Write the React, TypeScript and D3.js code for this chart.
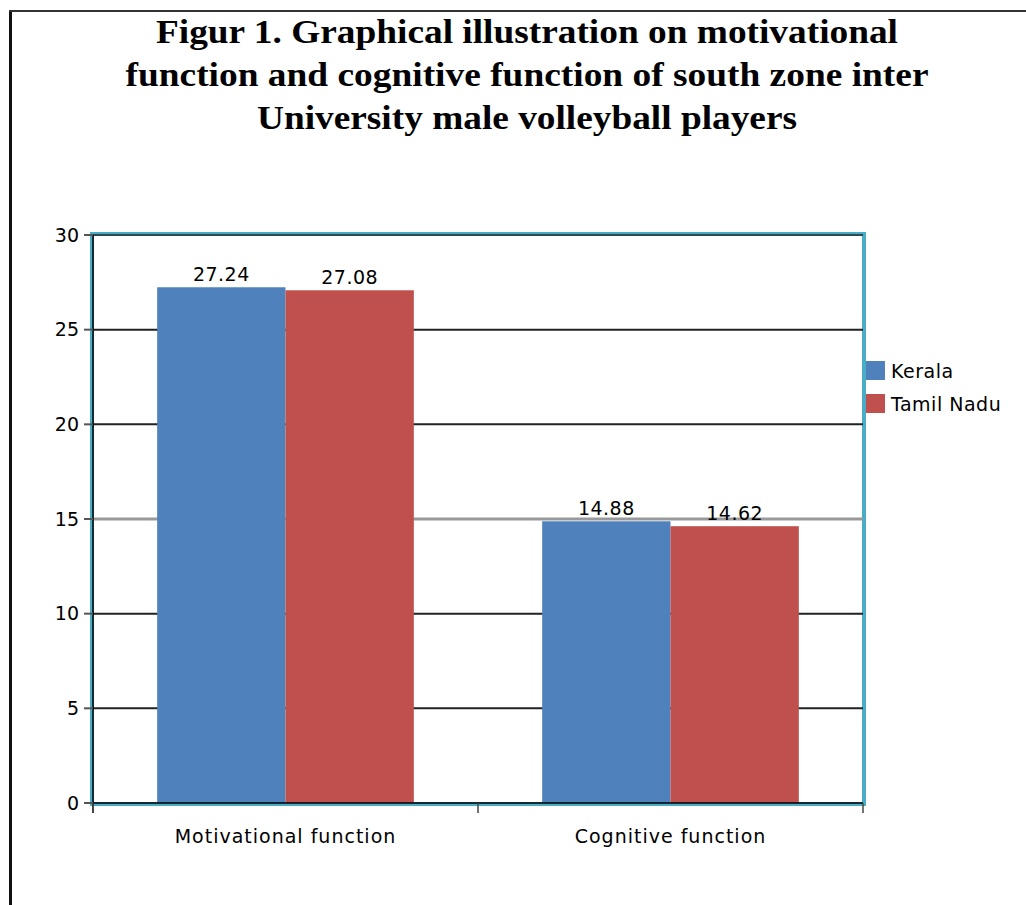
import React from "react";
import * as d3 from "d3";

const categories = ["Motivational function", "Cognitive function"];
const seriesNames = ["Kerala", "Tamil Nadu"];
const kerala = [27.24, 14.88];
const tamilNadu = [27.08, 14.62];
const yTicks = [0, 5, 10, 15, 20, 25, 30];
const titleLines = [
  "Figur 1. Graphical illustration on motivational",
  "function and cognitive function of south zone inter",
  "University male volleyball players",
];

const colors = ["#4F81BD", "#C0504D"];
const titleWidths = [742, 803, 540];

function App() {
  const w = 1026;
  const h = 905;
  const plot = { left: 93, right: 863, top: 235, bottom: 803 };
  const font = "'DejaVu Sans', sans-serif";

  const x = d3
    .scaleBand()
    .domain(categories)
    .range([plot.left, plot.right])
    .paddingInner(0)
    .paddingOuter(0);

  const inner = d3
    .scaleBand()
    .domain(seriesNames)
    .range([0, x.bandwidth()])
    .paddingOuter(0.5)
    .paddingInner(0);

  const y = d3.scaleLinear().domain([0, 30]).range([plot.bottom, plot.top]);

  const series = [kerala, tamilNadu];

  return (
    <svg
      width={w}
      height={h}
      style={{ position: "absolute", left: 0, top: 0, background: "#fff" }}
    >
      {/* page frame */}
      <line x1={10.5} x2={10.5} y1={10} y2={h} stroke="#111" strokeWidth={3} />
      <line x1={9} x2={w} y1={11} y2={11} stroke="#333" strokeWidth={2} />

      {/* title */}
      {titleLines.map((t, i) => (
        <text
          key={t}
          x={527}
          y={43 + i * 43}
          textAnchor="middle"
          fontFamily="'Liberation Serif', 'Times New Roman', serif"
          fontWeight="bold"
          fontSize={34}
          textLength={titleWidths[i]}
          lengthAdjust="spacingAndGlyphs"
          fill="#000"
        >
          {t}
        </text>
      ))}

      {/* plot frame */}
      <rect
        x={plot.left - 1}
        y={plot.top - 1}
        width={plot.right - plot.left + 2}
        height={plot.bottom - plot.top + 2}
        fill="#fff"
        stroke="#4BACC6"
        strokeWidth={4}
      />

      {/* gridlines */}
      {yTicks
        .filter((t) => t > 0)
        .map((t) => (
          <line
            key={t}
            x1={plot.left}
            x2={plot.right}
            y1={y(t)}
            y2={y(t)}
            stroke={t === 15 ? "#999" : t === 30 ? "#2a4a55" : "#222"}
            strokeWidth={t === 15 ? 3 : 2}
          />
        ))}

      {/* bars */}
      {categories.map((c, ci) =>
        seriesNames.map((s, si) => (
          <rect
            key={c + s}
            x={(x(c) as number) + (inner(s) as number)}
            y={y(series[si][ci])}
            width={inner.bandwidth()}
            height={y(0) - y(series[si][ci])}
            fill={colors[si]}
          />
        ))
      )}

      {/* value labels */}
      {categories.map((c, ci) =>
        seriesNames.map((s, si) => (
          <text
            key={"l" + c + s}
            x={(x(c) as number) + (inner(s) as number) + inner.bandwidth() / 2}
            y={y(series[si][ci]) - 6}
            textAnchor="middle"
            fontFamily={font}
            fontSize={19}
            letterSpacing={0.5}
            fill="#000"
          >
            {series[si][ci].toFixed(2)}
          </text>
        ))
      )}

      {/* axes */}
      <line x1={plot.left} x2={plot.left} y1={plot.top} y2={plot.bottom + 10} stroke="#000" strokeWidth={1.5} />
      <line x1={plot.left - 9} x2={plot.right} y1={plot.bottom} y2={plot.bottom} stroke="#000" strokeWidth={1.5} />
      {yTicks.map((t) => (
        <g key={"t" + t}>
          <line x1={plot.left - 9} x2={plot.left} y1={y(t)} y2={y(t)} stroke="#555" strokeWidth={2} />
          <text
            x={79}
            y={y(t)}
            dy="0.35em"
            textAnchor="end"
            fontFamily={font}
            fontSize={19}
            fill="#000"
          >
            {t}
          </text>
        </g>
      ))}
      {[plot.left, ...categories.map((c) => (x(c) as number) + x.bandwidth())].map((px, i) => (
        <line key={"xt" + i} x1={px} x2={px} y1={plot.bottom} y2={plot.bottom + 10} stroke="#444" strokeWidth={1.5} />
      ))}
      {categories.map((c) => (
        <text
          key={"c" + c}
          x={(x(c) as number) + x.bandwidth() / 2}
          y={843}
          textAnchor="middle"
          fontFamily={font}
          fontSize={19}
          letterSpacing={1}
          fill="#000"
        >
          {c}
        </text>
      ))}

      {/* legend */}
      {seriesNames.map((s, i) => (
        <g key={"lg" + s} transform={`translate(866, ${361 + i * 33})`}>
          <rect width={19} height={19} fill={colors[i]} />
          <text x={25} y={17} fontFamily={font} fontSize={19} letterSpacing={0.5} fill="#000">
            {s}
          </text>
        </g>
      ))}
    </svg>
  );
}

export default App;
